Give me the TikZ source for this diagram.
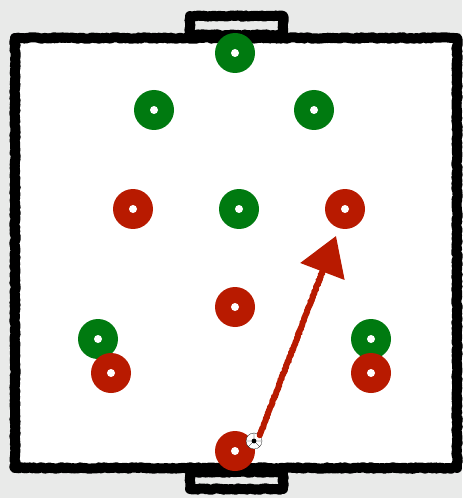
\documentclass[tikz,border=0pt]{standalone}
\usepackage{xcolor}
\usepackage{tikz}
\usetikzlibrary{positioning,arrows.meta,decorations.pathmorphing}

\definecolor{pitchgreen}{HTML}{007A10}
\definecolor{pitchred}{HTML}{B81A00}
\definecolor{chalkbg}{HTML}{E9EAE9}

\begin{document}
\begin{tikzpicture}[
  x=0.05cm, y=-0.05cm,
  player/.style={circle, fill=#1, minimum size=2cm, inner sep=0pt,
                 path picture={\fill[white] (path picture bounding box.center) circle (0.2cm);}},
  chalk/.style={draw=black, line width=0.5cm, line join=round,
                decorate, decoration={random steps, segment length=2.5pt, amplitude=1.1pt}},
  pass/.style={draw=pitchred, line width=0.3cm, line cap=round,
               -{Triangle[length=1.9cm, width=2.3cm]}},
  ball/.style={circle, draw=black, fill=white, thin, minimum size=0.8cm, inner sep=0pt}
]
  % Background
  \fill[chalkbg] (0,0) rectangle (462,498);
  \useasboundingbox (0,0) rectangle (462,498);

  % Pitch
  \fill[white] (15,38) rectangle (457,468);
  \draw[chalk, fill=chalkbg] (190,16) rectangle (283,35);
  \draw[chalk, fill=chalkbg] (190,472) rectangle (283,489);
  \draw[chalk] (15,38) rectangle (457,468);

  % Green team
  \node[player=pitchgreen] (g1) at (235,53) {};
  \node[player=pitchgreen] (g2) at (154,110) {};
  \node[player=pitchgreen] (g3) at (314,110) {};
  \node[player=pitchgreen] (g4) at (239,209) {};
  \node[player=pitchgreen] (g5) at (98,339) {};
  \node[player=pitchgreen] (g6) at (371,339) {};

  % Red team
  \node[player=pitchred] (r1) at (133,209) {};
  \node[player=pitchred] (r2) at (345,209) {};
  \node[player=pitchred] (r3) at (235,307) {};
  \node[player=pitchred] (r4) at (111,373) {};
  \node[player=pitchred] (r5) at (371,373) {};
  \node[player=pitchred] (r6) at (235,451) {};

  % Ball and pass
  \node[ball] (ball) at (254,441) {};
  \fill[black] (ball.center) circle (0.12cm);
  \draw[thin] (ball.center) -- (ball.north) (ball.center) -- (ball.south west)
              (ball.center) -- (ball.south east) (ball.west) -- (ball.east);
  \coordinate (target) at (336,236);
  \draw[pass, decorate, decoration={random steps, segment length=2pt, amplitude=0.6pt,
        post=lineto, post length=1.9cm}] (ball.north east) -- (target);
\end{tikzpicture}
\end{document}
